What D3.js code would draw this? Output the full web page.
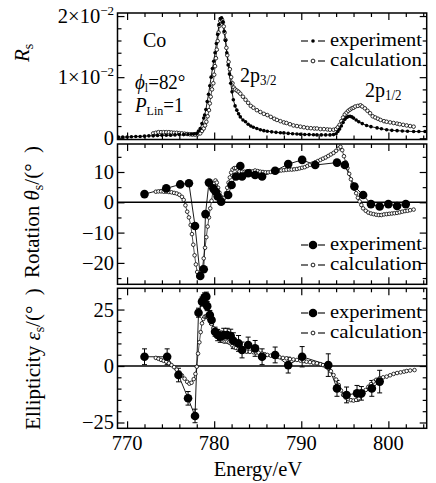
<!DOCTYPE html>
<html><head><meta charset="utf-8">
<script src="https://cdn.jsdelivr.net/npm/d3@7"></script>
<style>
body{margin:0;background:#fff}
svg{display:block;background:#fff}
</style>
</head><body>
<svg id="c" width="436" height="483" font-family="Liberation Serif, Times New Roman, Times, serif"></svg>
<script>
// ---------------- data ----------------
const xTickMajor = [770, 780, 790, 800];
const xTickMinor = [772, 774, 776, 778, 782, 784, 786, 788, 792, 794, 796, 798, 802, 804];
const xTickLabels = ["770", "780", "790", "800"];

// Rs in units of 1e-2
const rsTickMajor = [0, 1, 2];
const rsTickMinor = [0.2, 0.4, 0.6, 0.8, 1.2, 1.4, 1.6, 1.8];
const rsTickLabels = [["0", ""], ["1×10", "−2"], ["2×10", "−2"]];
const rotTickMajor = [-20, -10, 0, 10];
const rotTickMinor = [-25, -15, -5, 5, 15];
const rotTickLabels = ["−20", "−10", "0", "10"];
const ellTickMajor = [-25, 0, 25];
const ellTickMinor = [-20, -15, -10, -5, 5, 10, 15, 20, 30];
const ellTickLabels = ["−25", "0", "25"];

const rsExp = [[769.0,0.02],[769.5,0.02],[770.0,0.02],[770.5,0.025],[771.0,0.03],[771.5,0.03],[772.0,0.035],[772.5,0.04],[773.0,0.04],[773.5,0.045],[774.0,0.05],[774.5,0.05],[775.0,0.05],[775.5,0.055],[776.0,0.06],[776.5,0.06],[777.0,0.065],[777.4,0.07],[777.7,0.075],[778.0,0.08],[778.2,0.12],[778.4,0.16],[778.6,0.24],[778.8,0.33],[778.9,0.38],[779.05,0.47],[779.2,0.6],[779.35,0.72],[779.5,0.86],[779.65,1.0],[779.8,1.14],[779.95,1.26],[780.1,1.4],[780.25,1.55],[780.4,1.7],[780.55,1.86],[780.7,1.96],[780.85,1.97],[781.0,1.9],[781.15,1.75],[781.3,1.6],[781.45,1.4],[781.6,1.2],[781.75,1.05],[781.9,0.9],[782.05,0.76],[782.2,0.63],[782.4,0.53],[782.6,0.46],[782.8,0.4],[783.0,0.35],[783.3,0.3],[783.6,0.27],[783.9,0.23],[784.2,0.2],[784.5,0.18],[784.9,0.16],[785.3,0.14],[785.7,0.125],[786.1,0.115],[786.6,0.105],[787.1,0.097],[787.6,0.09],[788.0,0.088],[788.5,0.08],[789.0,0.075],[789.5,0.07],[789.9,0.066],[790.4,0.062],[790.9,0.06],[791.4,0.057],[791.8,0.055],[792.3,0.055],[792.8,0.055],[793.3,0.055],[793.7,0.06],[794.0,0.075],[794.2,0.11],[794.4,0.15],[794.6,0.2],[794.8,0.26],[795.0,0.31],[795.2,0.34],[795.4,0.355],[795.6,0.36],[795.8,0.35],[796.0,0.33],[796.3,0.3],[796.6,0.27],[797.0,0.24],[797.5,0.21],[798.0,0.19],[798.7,0.17],[799.2,0.155],[799.8,0.14],[800.4,0.13],[801.0,0.125],[801.6,0.12],[802.2,0.115],[802.9,0.11],[803.5,0.11],[804.2,0.11]];

const rsCalc = [[773.0,0.08],[773.3,0.09],[773.6,0.1],[773.9,0.1],[774.2,0.1],[774.5,0.1],[774.8,0.1],[775.1,0.095],[775.4,0.09],[775.7,0.09],[776.0,0.085],[776.3,0.08],[776.6,0.075],[776.9,0.07],[777.2,0.065],[777.5,0.06],[777.8,0.06],[778.1,0.065],[778.4,0.08],[778.6,0.12],[778.8,0.16],[778.95,0.21],[779.1,0.27],[779.25,0.36],[779.4,0.46],[779.5,0.57],[779.6,0.68],[779.75,0.8],[779.9,0.9],[780.0,1.04],[780.1,1.18],[780.2,1.31],[780.3,1.45],[780.4,1.59],[780.5,1.73],[780.6,1.84],[780.7,1.92],[780.8,1.95],[780.9,1.94],[781.0,1.9],[781.1,1.83],[781.2,1.73],[781.3,1.61],[781.4,1.48],[781.5,1.36],[781.65,1.25],[781.8,1.13],[781.95,1.0],[782.1,0.9],[782.25,0.83],[782.4,0.8],[782.6,0.78],[782.8,0.76],[783.0,0.73],[783.3,0.68],[783.6,0.63],[783.9,0.58],[784.2,0.53],[784.5,0.5],[784.9,0.46],[785.3,0.43],[785.7,0.4],[786.1,0.38],[786.5,0.35],[786.9,0.32],[787.2,0.3],[787.6,0.28],[788.0,0.26],[788.3,0.25],[788.7,0.23],[789.1,0.21],[789.5,0.2],[789.9,0.19],[790.3,0.18],[790.7,0.17],[791.1,0.165],[791.5,0.16],[791.8,0.16],[792.2,0.15],[792.6,0.15],[793.0,0.145],[793.3,0.14],[793.7,0.14],[794.0,0.15],[794.2,0.18],[794.4,0.22],[794.6,0.28],[794.8,0.34],[795.0,0.39],[795.2,0.42],[795.4,0.45],[795.6,0.47],[795.8,0.49],[796.0,0.5],[796.2,0.52],[796.5,0.53],[796.8,0.54],[797.0,0.52],[797.3,0.49],[797.6,0.45],[797.9,0.41],[798.2,0.36],[798.5,0.34],[798.8,0.32],[799.1,0.3],[799.5,0.28],[799.8,0.27],[800.2,0.26],[800.6,0.25],[801.0,0.24],[801.3,0.23],[801.7,0.22],[802.1,0.21],[802.5,0.2],[802.9,0.19]];

const rotExp = [[772.0,2.7],[774.5,4.6],[776.1,5.9],[777.1,6.3],[777.8,-7.8],[778.4,-24.3],[778.8,-22.1],[779.0,-3.9],[779.4,6.5],[779.9,4.6],[780.2,3.5],[780.4,1.9],[780.8,0.2],[781.6,2.4],[782.0,5.7],[782.5,8.5],[783.0,12.0],[783.2,8.5],[783.9,9.6],[784.7,9.0],[785.5,8.5],[787.0,10.4],[788.5,12.6],[790.1,14.0],[791.6,12.3],[794.1,13.1],[795.0,12.3],[796.1,5.2],[797.1,2.4],[798.0,-0.6],[799.0,-1.4],[800.0,-0.6],[801.0,-1.2],[802.0,-0.6]];

const rotCalc = [[773.3,3.5],[773.6,3.6],[773.9,3.6],[774.2,3.5],[774.5,3.5],[774.8,3.4],[775.1,3.3],[775.4,3.1],[775.7,2.9],[776.0,2.5],[776.3,1.8],[776.5,0.8],[776.7,-1.0],[776.9,-3.1],[777.1,-5],[777.3,-7.5],[777.45,-10.5],[777.6,-14],[777.75,-17.5],[777.9,-20.5],[778.05,-23],[778.2,-24.3],[778.35,-24.6],[778.5,-23.8],[778.65,-21.5],[778.8,-18.5],[778.95,-15],[779.1,-11.5],[779.25,-8],[779.4,-5],[779.55,-2],[779.7,0.5],[779.85,3.5],[780.0,6.2],[780.15,7.2],[780.3,6.5],[780.45,4.8],[780.6,3.2],[780.75,2.0],[780.9,1.2],[781.05,1.0],[781.2,1.6],[781.35,3.0],[781.5,4.8],[781.65,6.5],[781.8,8.2],[781.95,9.8],[782.1,10.8],[782.3,11.3],[782.5,11.3],[782.7,10.6],[782.9,10.2],[783.2,10.1],[783.5,10.1],[783.8,10.1],[784.1,10.3],[784.4,10.2],[784.7,10.5],[785.0,10.3],[785.3,10.1],[785.6,10.0],[785.9,9.9],[786.2,9.9],[786.5,10.0],[786.8,10.2],[787.1,10.3],[787.4,10.4],[787.7,10.5],[788.0,10.6],[788.3,10.7],[788.6,10.8],[788.9,10.8],[789.2,10.9],[789.5,11.0],[789.8,11.2],[790.1,11.4],[790.4,11.6],[790.7,12.0],[791.0,12.4],[791.3,12.8],[791.6,13.2],[791.9,13.6],[792.2,14.0],[792.5,14.4],[792.8,14.8],[793.1,15.3],[793.4,15.8],[793.7,16.3],[794.0,17.0],[794.3,17.8],[794.5,18.3],[794.7,17.2],[794.9,15.2],[795.1,13.2],[795.3,11.3],[795.5,9.4],[795.7,7.6],[795.9,6.0],[796.1,4.5],[796.3,3.0],[796.5,1.5],[796.7,0.3],[796.9,-0.9],[797.1,-2.0],[797.4,-2.8],[797.7,-3.4],[798.0,-3.7],[798.3,-3.9],[798.6,-4.1],[798.9,-4.2],[799.2,-4.2],[799.5,-4.0],[799.8,-3.9],[800.1,-3.8],[800.4,-3.7],[800.7,-3.6],[801.0,-3.5],[801.3,-3.3],[801.6,-3.1],[801.9,-2.9],[802.2,-2.8],[802.5,-2.6],[802.9,-2.4]];

// [energy, value, error]
const ellExp = [[772.0,4.1,3.5],[774.6,4.1,3.5],[775.9,-4.0,3],[777.0,-14.3,3],[777.8,-22.1,3],[778.2,23.6,2],[778.6,28.5,2],[778.9,30.4,2],[779.1,30.7,2],[779.2,26.5,2],[779.5,22.6,2],[779.7,20.4,2],[780.1,15.2,2],[780.4,13.7,2.5],[780.7,13.0,2.5],[781.1,13.7,3],[781.5,13.7,3],[781.9,13.3,3],[782.2,11.2,3.5],[782.8,10.0,3.5],[783.2,7.1,3.5],[783.9,9.3,3.5],[784.7,7.8,3.5],[785.5,4.1,3.5],[787.0,4.9,3.5],[788.5,0.4,3.5],[790.1,4.1,4.5],[793.1,0.4,5],[794.1,-9.9,3.5],[795.2,-12.8,3.5],[796.4,-12.1,3.5],[796.9,-12.1,3],[798.1,-9.9,3.5],[799.0,-6.9,5]];

const ellCalc = [[773.3,3.6],[773.6,3.2],[773.9,2.7],[774.2,2.3],[774.5,1.9],[774.8,1.2],[775.1,0.4],[775.4,-0.5],[775.7,-1.6],[776.0,-2.8],[776.3,-4.2],[776.6,-5.6],[776.9,-7.0],[777.15,-7.8],[777.4,-7.4],[777.65,-5.8],[777.85,-3.5],[778.0,-0.3],[778.15,5.5],[778.3,10.5],[778.45,15],[778.6,18.9],[778.75,20.8],[778.9,21.8],[779.05,22.0],[779.2,21.8],[779.35,21.2],[779.5,20.4],[779.7,18.6],[779.9,16.7],[780.1,15.0],[780.3,13.7],[780.5,12.6],[780.7,11.8],[780.9,11.2],[781.1,10.8],[781.3,10.8],[781.5,10.8],[781.7,10.4],[781.9,10.0],[782.1,9.0],[782.3,8.3],[782.5,8.0],[782.8,7.6],[783.1,7.0],[783.4,6.6],[783.7,6.4],[784.1,6.3],[784.5,6.1],[784.8,6.0],[785.1,5.9],[785.5,5.5],[785.8,5.2],[786.1,4.9],[786.5,4.6],[786.8,4.4],[787.2,4.1],[787.5,3.9],[787.9,3.6],[788.3,3.4],[788.7,3.1],[789.1,2.9],[789.5,2.7],[789.9,2.4],[790.3,2.2],[790.6,1.9],[791.0,1.7],[791.4,1.4],[791.8,1.2],[792.2,0.8],[792.5,0.4],[792.8,-0.2],[793.1,-1.0],[793.4,-2.3],[793.7,-4.0],[794.0,-6.0],[794.3,-8.4],[794.55,-10.8],[794.8,-12.8],[795.1,-14.0],[795.4,-14.7],[795.7,-15.1],[796.0,-15.3],[796.3,-15.0],[796.6,-14.3],[796.85,-13.2],[797.1,-12.1],[797.4,-10.6],[797.7,-9.2],[798.0,-8.0],[798.3,-6.9],[798.6,-6.1],[799.0,-5.4],[799.4,-5.0],[799.8,-4.7],[800.2,-4.1],[800.6,-3.5],[801.0,-3.1],[801.4,-2.8],[801.8,-2.5],[802.1,-2.2],[802.5,-2.0],[803.0,-1.8]];

const legendLabels = ["experiment", "calculation"];

// ---------------- drawing ----------------
const svg = d3.select("#c");
const L = 117.5, R = 426.7;
const x = d3.scaleLinear().domain([768.9, 804.4]).range([L, R]);

function txt(g, px, py, size, anchor, sy, rot) {
  let tr = `translate(${px},${py})`;
  if (rot) tr += ` rotate(${rot})`;
  if (sy && sy !== 1) tr += ` scale(1,${sy})`;
  return g.append("text").attr("transform", tr)
    .attr("font-size", size).attr("text-anchor", anchor || "start").attr("fill", "#000");
}

function panel(cfg) {
  const y = d3.scaleLinear().domain(cfg.domain).range([cfg.bottom, cfg.top]);
  const g = svg.append("g");
  const clipId = "clip" + cfg.name;
  svg.append("clipPath").attr("id", clipId).append("rect")
    .attr("x", L).attr("y", cfg.top).attr("width", R - L).attr("height", cfg.bottom - cfg.top);

  const tickStyle = sel => { sel.select(".domain").remove(); sel.selectAll("line").attr("stroke", "#000").attr("stroke-width", 1.2); };
  const mk = (axisFn, scale, vals, len, tr) => g.append("g").attr("transform", tr)
      .call(axisFn(scale).tickValues(vals).tickSize(-len).tickFormat(""))
      .call(tickStyle);
  mk(d3.axisBottom, x, xTickMajor, 7, `translate(0,${cfg.bottom})`);
  mk(d3.axisBottom, x, xTickMinor, 4, `translate(0,${cfg.bottom})`);
  mk(d3.axisTop, x, xTickMajor, 7, `translate(0,${cfg.top})`);
  mk(d3.axisTop, x, xTickMinor, 4, `translate(0,${cfg.top})`);
  mk(d3.axisLeft, y, cfg.major, 7, `translate(${L},0)`);
  mk(d3.axisLeft, y, cfg.minor, 4, `translate(${L},0)`);
  mk(d3.axisRight, y, cfg.major, 7, `translate(${R},0)`);
  mk(d3.axisRight, y, cfg.minor, 4, `translate(${R},0)`);

  if (cfg.zeroLine) {
    g.append("line").attr("x1", L).attr("x2", R).attr("y1", y(0)).attr("y2", y(0))
      .attr("stroke", "#000").attr("stroke-width", 1.6);
  }

  cfg.major.forEach((v, i) => {
    const lab = cfg.labels[i];
    const t = txt(g, 114, y(v) + 7, 20.5, "end", 1);
    if (Array.isArray(lab)) {
      t.append("tspan").text(lab[0]);
      if (lab[1]) t.append("tspan").attr("font-size", 13).attr("dy", -8).text(lab[1]);
    } else t.text(lab);
  });

  const data = g.append("g").attr("clip-path", `url(#${clipId})`);
  const line = d3.line().x(d => x(d[0])).y(d => y(d[1]));

  data.append("path").datum(cfg.calc).attr("d", line).attr("fill", "none")
    .attr("stroke", "#000").attr("stroke-width", 0.7);
  data.append("path").datum(cfg.exp).attr("d", line).attr("fill", "none")
    .attr("stroke", "#000").attr("stroke-width", 0.9);
  if (cfg.errors) {
    cfg.exp.forEach(d => {
      const xx = x(d[0]), y1 = y(d[1] - d[2]), y2 = y(d[1] + d[2]);
      data.append("line").attr("x1", xx).attr("x2", xx).attr("y1", y1).attr("y2", y2).attr("stroke", "#000").attr("stroke-width", 1);
      [y1, y2].forEach(yy => data.append("line").attr("x1", xx - 2.5).attr("x2", xx + 2.5)
        .attr("y1", yy).attr("y2", yy).attr("stroke", "#000").attr("stroke-width", 1));
    });
  }
  data.selectAll("circle.c").data(cfg.calc).join("circle").attr("class", "c")
    .attr("cx", d => x(d[0])).attr("cy", d => y(d[1])).attr("r", 1.8)
    .attr("fill", "#fff").attr("stroke", "#000").attr("stroke-width", 0.8);
  data.selectAll("circle.e").data(cfg.exp).join("circle").attr("class", "e")
    .attr("cx", d => x(d[0])).attr("cy", d => y(d[1])).attr("r", cfg.expR)
    .attr("fill", "#000");

  g.append("rect").attr("x", L).attr("y", cfg.top).attr("width", R - L).attr("height", cfg.bottom - cfg.top)
    .attr("fill", "none").attr("stroke", "#000").attr("stroke-width", 1.5);

  cfg.legendY.forEach((ly, i) => {
    g.append("line").attr("x1", 301).attr("x2", 308).attr("y1", ly).attr("y2", ly).attr("stroke", "#000").attr("stroke-width", 1.1);
    g.append("line").attr("x1", 318).attr("x2", 325).attr("y1", ly).attr("y2", ly).attr("stroke", "#000").attr("stroke-width", 1.1);
    if (i === 0) g.append("circle").attr("cx", 313).attr("cy", ly).attr("r", cfg.expR).attr("fill", "#000");
    else g.append("circle").attr("cx", 313).attr("cy", ly).attr("r", 1.9).attr("fill", "#fff").attr("stroke", "#000").attr("stroke-width", 0.9);
    txt(g, 330, ly + 5, 18, "start", 1)
      .attr("textLength", 92).attr("lengthAdjust", "spacingAndGlyphs")
      .text(legendLabels[i]);
  });
  return {g, y};
}

panel({name: "rs", top: 13, bottom: 139.5, domain: [-0.02, 2.05],
  major: rsTickMajor, minor: rsTickMinor, labels: rsTickLabels,
  exp: rsExp, calc: rsCalc, expR: 1.8, legendY: [41, 61]});
panel({name: "rot", top: 144, bottom: 284.3, domain: [-27.06, 19.24],
  major: rotTickMajor, minor: rotTickMinor, labels: rotTickLabels, zeroLine: true,
  exp: rotExp, calc: rotCalc, expR: 4.3, legendY: [245, 265]});
panel({name: "ell", top: 288.3, bottom: 428.3, domain: [-27.57, 34.4],
  major: ellTickMajor, minor: ellTickMinor, labels: ellTickLabels, zeroLine: true,
  exp: ellExp, calc: ellCalc, expR: 4.3, errors: true, legendY: [313, 333]});

xTickMajor.forEach((v, i) => txt(svg, x(v), 450, 20.5, "middle", 1).text(xTickLabels[i]));
txt(svg, 258, 476, 20.5, "middle", 1.05).text("Energy/eV");

{
  const t = txt(svg, 29, 62, 21, "start", 1, -90);
  t.append("tspan").attr("font-style", "italic").text("R");
  t.append("tspan").attr("font-size", 14).attr("dy", 4).text("s");
}
{
  const t = txt(svg, 39, 212, 21, "middle", 1, -90);
  t.append("tspan").text("Rotation ");
  t.append("tspan").attr("font-style", "italic").text("θ");
  t.append("tspan").attr("font-size", 14).attr("dy", 4).text("s");
  t.append("tspan").attr("dy", -4).text("/(°\u2002)");
}
{
  const t = txt(svg, 40, 359, 21, "middle", 1, -90);
  t.append("tspan").text("Ellipticity ");
  t.append("tspan").attr("font-style", "italic").text("ε");
  t.append("tspan").attr("font-size", 14).attr("dy", 4).text("s");
  t.append("tspan").attr("dy", -4).text("/(°\u2002)");
}

txt(svg, 143, 47, 20, "start", 1.05).text("Co");
{
  const t = txt(svg, 135, 89, 19, "start", 1.05);
  t.append("tspan").attr("font-style", "italic").text("ϕ");
  t.append("tspan").attr("font-size", 12).attr("dy", 3).text("l");
  t.append("tspan").attr("dy", -3).text("=82°");
}
{
  const t = txt(svg, 135, 112, 19, "start", 1.05);
  t.append("tspan").attr("font-style", "italic").text("P");
  t.append("tspan").attr("font-size", 12).attr("dy", 3).text("Lin");
  t.append("tspan").attr("dy", -3).text("=1");
}
{
  const t = txt(svg, 240, 82, 20, "start", 1.05);
  t.append("tspan").text("2p");
  t.append("tspan").attr("font-size", 13).attr("dy", 3).text("3/2");
}
{
  const t = txt(svg, 365, 97, 20, "start", 1.05);
  t.append("tspan").text("2p");
  t.append("tspan").attr("font-size", 13).attr("dy", 3).text("1/2");
}
</script>
</body></html>
